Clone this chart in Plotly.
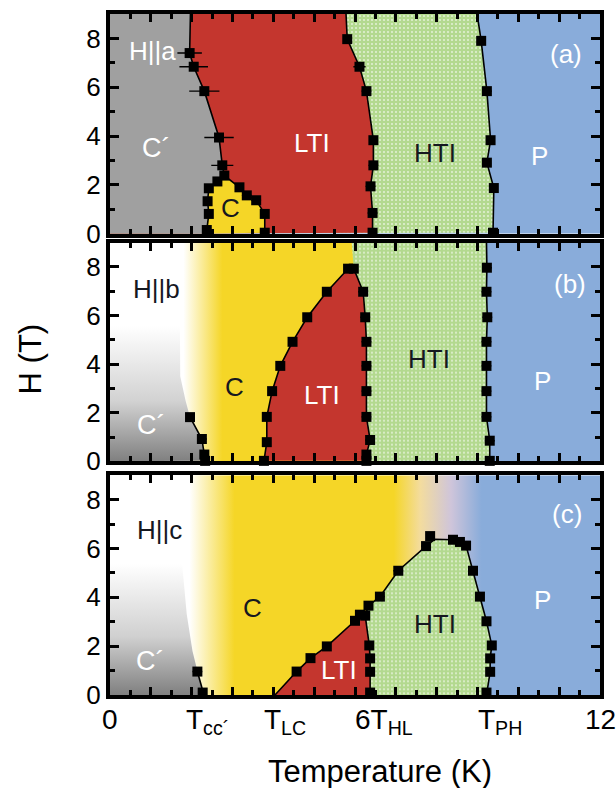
import plotly.graph_objects as go

# ---------------------------------------------------------------- colours
GRAY = "#a0a0a0"
GRAY_DARK = "#7e7e7e"
RED = "#c4362e"
YELLOW = "#f5d627"
GREEN = "#b3d98f"
BLUE = "#89acda"
INK = "#15181f"

T_MAX, H_MAX = 12.0, 9.0

# ---------------------------------------------------------------- panel (a): H || a
# phase lines, listed top -> bottom; dT = horizontal error (None = no measured point)
a_cl_T = [1.97, 1.95, 2.05, 2.31, 2.67, 2.75, 2.80]          # C' / LTI
a_cl_H = [9.00, 7.40, 6.84, 5.84, 3.94, 2.80, 2.38]
a_cl_dT = [None, 0.30, 0.35, 0.37, 0.36, 0.27, 0.10]
a_pl_T = [2.37, 2.37, 2.42, 2.39, 2.42, 2.63]                 # C pocket, left side (bottom -> top)
a_pl_H = [0.00, 0.15, 0.81, 1.33, 1.86, 2.14]
a_pl_dT = [None, 0.10, 0.10, 0.10, 0.10, 0.10]
a_pr_T = [3.17, 3.35, 3.58, 3.79, 3.79]                       # C pocket, right side (top -> bottom)
a_pr_H = [1.90, 1.57, 1.37, 0.81, 0.04]
a_pr_dT = [0.10, 0.12, 0.12, 0.10, 0.05]
a_lh_T = [5.78, 5.81, 6.11, 6.28, 6.45, 6.45, 6.38, 6.43, 6.43]   # LTI / HTI
a_lh_H = [9.00, 7.97, 6.84, 5.84, 3.83, 2.80, 1.94, 0.85, 0.04]
a_lh_dT = [None, 0.10, 0.15, 0.12, 0.10, 0.12, 0.12, 0.12, 0.10]
a_hp_T = [8.99, 9.09, 9.23, 9.32, 9.23, 9.40, 9.38]           # HTI / P
a_hp_H = [9.00, 7.90, 5.84, 3.83, 2.91, 1.87, 0.04]
a_hp_dT = [None, 0.10, 0.12, 0.10, 0.10, 0.10, 0.10]

# ---------------------------------------------------------------- panel (b): H || b
b_edge_T = [1.70, 1.72, 1.85]                                  # soft edge of the C' shading
b_edge_H = [9.00, 3.50, 2.50]
b_cc_T = [1.96, 2.25, 2.31, 2.33]                              # C' / C
b_cc_H = [1.82, 0.92, 0.28, 0.02]
b_cc_dT = [0.10, 0.12, 0.10, 0.10]
b_cl_T = [3.77, 3.84, 3.84, 3.97, 4.17, 4.47, 4.83, 5.31, 5.83, 5.97]   # C / LTI (bottom -> top)
b_cl_H = [0.02, 0.79, 1.83, 2.89, 3.93, 4.92, 5.93, 6.98, 7.93, 7.93]
b_cl_dT = [0.08, 0.08, 0.08, 0.08, 0.08, 0.08, 0.08, 0.08, 0.08, 0.08]
b_top_T = 5.92                                                 # C / HTI meeting the top frame
b_lh_T = [5.97, 6.20, 6.25, 6.28, 6.28, 6.28, 6.28, 6.37, 6.28, 6.28]   # LTI / HTI (top -> bottom)
b_lh_H = [7.93, 6.98, 5.93, 4.92, 3.93, 2.89, 1.83, 0.88, 0.28, 0.02]
b_lh_dT = [None, 0.12, 0.12, 0.12, 0.12, 0.12, 0.12, 0.12, 0.10, 0.10]
b_hp_T = [9.22, 9.23, 9.22, 9.24, 9.22, 9.22, 9.22, 9.22, 9.30, 9.30]   # HTI / P
b_hp_H = [9.00, 7.97, 6.98, 5.93, 4.92, 3.93, 2.89, 1.83, 0.85, 0.02]
b_hp_dT = [None, 0.12, 0.12, 0.12, 0.12, 0.12, 0.12, 0.12, 0.12, 0.10]

# ---------------------------------------------------------------- panel (c): H || c
c_edge_T = [1.72, 1.77, 1.88, 2.02]
c_edge_H = [9.00, 5.30, 3.30, 1.80]
c_cc_T = [2.14, 2.27, 2.30]                                    # C' / C
c_cc_H = [0.96, 0.10, 0.00]
c_cc_dT = [0.12, 0.10, None]
c_cl_T = [4.04, 4.57, 4.91, 5.31, 6.00, 6.12, 6.25]            # C / LTI (bottom -> top)
c_cl_H = [0.00, 0.96, 1.51, 1.99, 3.04, 3.29, 3.25]
c_cl_dT = [None, 0.10, 0.10, 0.10, 0.12, 0.12, 0.10]
c_lh_T = [6.25, 6.35, 6.37, 6.37, 6.37]                        # LTI / HTI (top -> bottom)
c_lh_H = [3.25, 2.03, 1.50, 0.95, 0.10]
c_lh_dT = [None, 0.10, 0.10, 0.10, 0.10]
c_ch_T = [6.25, 6.33, 6.61, 7.06, 7.74, 7.95, 8.40, 8.57, 8.72]   # C / HTI dome
c_ch_H = [3.25, 3.66, 4.03, 5.09, 6.10, 6.38, 6.36, 6.27, 6.12]
c_ch_dT = [None, 0.10, 0.12, 0.12, 0.12, None, 0.12, 0.12, 0.12]
c_hp_T = [8.72, 8.89, 9.06, 9.22, 9.35, 9.31, 9.31, 9.22]      # HTI / P (top -> bottom)
c_hp_H = [6.12, 5.09, 4.03, 3.02, 2.03, 1.50, 0.95, 0.10]
c_hp_dT = [None, 0.12, 0.10, 0.10, 0.10, 0.10, 0.10, 0.10]
c_extra_T = [7.84]
c_extra_H = [6.51]
c_extra_dT = [0.08]

# colour ramp of the C / P background in panel (c): temperature stops and colours
c_ramp_T = [0.0, 1.95, 3.05, 6.95, 7.60, 8.35, 9.10, 12.0]
c_ramp_col = ["#ffffff", "#ffffff", YELLOW, YELLOW, "#f3dc9e", "#cfc5da", BLUE, BLUE]

fig = go.Figure()


def ax_names(p):
    return ("x", "y") if p == 1 else (f"x{p}", f"y{p}")


def region(p, xs, ys, **kw):
    xa, ya = ax_names(p)
    fig.add_trace(go.Scatter(
        x=list(xs), y=list(ys), xaxis=xa, yaxis=ya, mode="lines", fill="toself",
        line=dict(width=0, color="rgba(0,0,0,0)"), hoverinfo="skip", showlegend=False, **kw))


def boundary(p, xs, ys):
    xa, ya = ax_names(p)
    fig.add_trace(go.Scatter(
        x=list(xs), y=list(ys), xaxis=xa, yaxis=ya, mode="lines",
        line=dict(width=1.6, color="black"), hoverinfo="skip", showlegend=False))


def points(p, sets):
    xs, ys, es = [], [], []
    for T, H, dT in sets:
        for t, h, e in zip(T, H, dT):
            if e is not None:
                xs.append(t)
                ys.append(h)
                es.append(e)
    xa, ya = ax_names(p)
    fig.add_trace(go.Scatter(
        x=xs, y=ys, xaxis=xa, yaxis=ya, mode="markers", cliponaxis=False,
        marker=dict(symbol="square", size=10, color="black"),
        error_x=dict(type="data", array=es, symmetric=True, color="black", thickness=1.4, width=0),
        showlegend=False))


def left_of(T, H):
    # region between the left frame and a line running from top frame to bottom frame
    return [0.0] + list(T) + [0.0], [H_MAX] + list(H) + [0.0]


frame_x = [0.0, T_MAX, T_MAX, 0.0]
frame_y = [0.0, 0.0, H_MAX, H_MAX]
dots = dict(shape=".", fgcolor="white", fgopacity=0.7, bgcolor=GREEN, size=4, solidity=0.16)

# ---------------------------------------------------------------- draw panel (a)
region(1, frame_x, frame_y, fillcolor=BLUE)
gx, gy = left_of(a_hp_T, a_hp_H)
region(1, gx, gy, fillcolor=GREEN, fillpattern=dots)
rx, ry = left_of(a_lh_T, a_lh_H)
region(1, rx, ry, fillcolor=RED)
region(1, [0.0] + a_cl_T + a_pl_T[::-1] + [0.0], [H_MAX] + a_cl_H + a_pl_H[::-1] + [0.0], fillcolor=GRAY)
region(1, a_pl_T + a_cl_T[-1:] + a_pr_T, a_pl_H + a_cl_H[-1:] + a_pr_H, fillcolor=YELLOW)
boundary(1, a_cl_T, a_cl_H)
boundary(1, a_pl_T + a_cl_T[-1:] + a_pr_T, a_pl_H + a_cl_H[-1:] + a_pr_H)
boundary(1, a_lh_T, a_lh_H)
boundary(1, a_hp_T, a_hp_H)
points(1, [(a_cl_T, a_cl_H, a_cl_dT), (a_pl_T, a_pl_H, a_pl_dT), (a_pr_T, a_pr_H, a_pr_dT),
           (a_lh_T, a_lh_H, a_lh_dT), (a_hp_T, a_hp_H, a_hp_dT)])

# ---------------------------------------------------------------- draw panel (b)
region(2, frame_x, frame_y, fillcolor=BLUE)
gx, gy = left_of(b_hp_T, b_hp_H)
region(2, gx, gy, fillcolor=GREEN, fillpattern=dots)
region(2, [0.0, b_top_T] + b_lh_T + [0.0], [H_MAX, H_MAX] + b_lh_H + [0.0],
       fillgradient=dict(type="horizontal", start=1.80, stop=2.75,
                         colorscale=[[0, "#ffffff"], [1, YELLOW]]))
region(2, b_cl_T + b_lh_T, b_cl_H + b_lh_H, fillcolor=RED)
ex, ey = left_of(b_edge_T + b_cc_T, b_edge_H + b_cc_H)
region(2, ex, ey, fillgradient=dict(type="vertical", start=0.0, stop=5.6,
                                    colorscale=[[0, GRAY_DARK], [0.45, "#d2d2d2"], [1, "#ffffff"]]))
boundary(2, b_cc_T, b_cc_H)
boundary(2, b_cl_T, b_cl_H)
boundary(2, b_lh_T, b_lh_H)
boundary(2, b_hp_T, b_hp_H)
points(2, [(b_cc_T, b_cc_H, b_cc_dT), (b_cl_T, b_cl_H, b_cl_dT),
           (b_lh_T, b_lh_H, b_lh_dT), (b_hp_T, b_hp_H, b_hp_dT)])

# ---------------------------------------------------------------- draw panel (c)
ramp = [[(t - c_ramp_T[0]) / (c_ramp_T[-1] - c_ramp_T[0]), col] for t, col in zip(c_ramp_T, c_ramp_col)]
region(3, frame_x, frame_y,
       fillgradient=dict(type="horizontal", start=c_ramp_T[0], stop=c_ramp_T[-1], colorscale=ramp))
region(3, c_lh_T[::-1] + c_ch_T[1:] + c_hp_T[1:] + [c_hp_T[-1], c_lh_T[-1]],
       c_lh_H[::-1] + c_ch_H[1:] + c_hp_H[1:] + [0.0, 0.0], fillcolor=GREEN, fillpattern=dots)
region(3, c_cl_T + c_lh_T[1:] + [c_lh_T[-1]], c_cl_H + c_lh_H[1:] + [0.0], fillcolor=RED)
ex, ey = left_of(c_edge_T + c_cc_T, c_edge_H + c_cc_H)
region(3, ex, ey, fillgradient=dict(type="vertical", start=0.0, stop=5.4,
                                    colorscale=[[0, GRAY_DARK], [0.45, "#d0d0d0"], [1, "#ffffff"]]))
boundary(3, c_cc_T, c_cc_H)
boundary(3, c_cl_T, c_cl_H)
boundary(3, c_lh_T + [c_lh_T[-1]], c_lh_H + [0.0])
boundary(3, c_ch_T, c_ch_H)
boundary(3, c_hp_T + [c_hp_T[-1]], c_hp_H + [0.0])
points(3, [(c_cc_T, c_cc_H, c_cc_dT), (c_cl_T, c_cl_H, c_cl_dT), (c_lh_T, c_lh_H, c_lh_dT),
           (c_ch_T, c_ch_H, c_ch_dT), (c_hp_T, c_hp_H, c_hp_dT),
           (c_extra_T, c_extra_H, c_extra_dT)])

# ---------------------------------------------------------------- axes / frames
FONT = "Liberation Sans, Arial, Helvetica, sans-serif"
domains = {1: [0.6774, 1.0], 2: [0.3431, 0.6642], 3: [0.0, 0.3226]}
layout_axes = {}
for p, dom in domains.items():
    xk = "xaxis" if p == 1 else f"xaxis{p}"
    yk = "yaxis" if p == 1 else f"yaxis{p}"
    xa, ya = ax_names(p)
    layout_axes[xk] = dict(
        domain=[0, 1], range=[0, T_MAX], anchor=ya, showline=True, linewidth=4, linecolor="black",
        mirror="ticks", ticks="inside", ticklen=8, tickwidth=3, tickcolor="black",
        tick0=0, dtick=1, minor=dict(dtick=0.5, ticklen=5, tickwidth=3, tickcolor="black", ticks="inside"),
        showticklabels=False, showgrid=False, zeroline=False, fixedrange=True)
    layout_axes[yk] = dict(
        domain=dom, range=[0, H_MAX], anchor=xa, showline=True, linewidth=4, linecolor="black",
        mirror="ticks", ticks="inside", ticklen=9, tickwidth=3, tickcolor="black",
        tick0=0, dtick=2, minor=dict(dtick=1, ticklen=5, tickwidth=3, tickcolor="black", ticks="inside"),
        tickfont=dict(family=FONT, size=26, color="black"),
        showgrid=False, zeroline=False, fixedrange=True)

# ---------------------------------------------------------------- text
notes = []


def label(p, t, h, text, color, size=26, xanchor="center"):
    xa, ya = ax_names(p)
    notes.append(dict(x=t, y=h, xref=xa, yref=ya, text=text, showarrow=False, xanchor=xanchor,
                      font=dict(family=FONT, size=size, color=color)))


label(1, 1.03, 7.5, "H||a", "white")
label(1, 11.17, 7.35, "(a)", "white")
label(1, 1.15, 3.5, "C´", "white", 27)
label(1, 4.95, 3.7, "LTI", "white")
label(1, 7.96, 3.3, "HTI", INK)
label(1, 10.53, 3.2, "P", "white")
label(1, 2.94, 1.06, "C", INK)

label(2, 1.15, 7.1, "H||b", INK)
label(2, 11.27, 7.3, "(b)", "white")
label(2, 1.02, 1.5, "C´", "white", 27)
label(2, 3.06, 3.05, "C", INK)
label(2, 5.2, 2.75, "LTI", "white")
label(2, 7.8, 4.2, "HTI", INK)
label(2, 10.6, 3.3, "P", "white")

label(3, 1.22, 6.75, "H||c", INK)
label(3, 11.2, 7.4, "(c)", "white")
label(3, 0.98, 1.4, "C´", "white", 27)
label(3, 3.5, 3.57, "C", INK)
label(3, 5.6, 1.03, "LTI", "white")
label(3, 7.96, 2.9, "HTI", INK)
label(3, 10.58, 3.9, "P", "white")

# temperature axis labels
x_tick_pos = [0.0, 2.38, 4.29, 6.70, 9.54, 12.0]
x_tick_txt = ["0", "T<sub>cc´</sub>", "T<sub>LC</sub>", "6T<sub>HL</sub>", "T<sub>PH</sub>", "12"]
for t, s in zip(x_tick_pos, x_tick_txt):
    notes.append(dict(x=t, y=-0.010, xref="x3", yref="paper", text=s, showarrow=False,
                      xanchor="center", yanchor="top", font=dict(family=FONT, size=28, color="black")))

notes.append(dict(x=0.551, y=-0.112, xref="paper", yref="paper", text="Temperature (K)",
                  showarrow=False, xanchor="center", yanchor="middle",
                  font=dict(family=FONT, size=31, color="black")))
notes.append(dict(x=-0.163, y=0.493, xref="paper", yref="paper", text="H (T)", textangle=-90,
                  showarrow=False, xanchor="center", yanchor="middle",
                  font=dict(family=FONT, size=31, color="black")))

fig.update_layout(
    width=616, height=788,
    margin=dict(l=110, r=16, t=10, b=93),
    paper_bgcolor="white", plot_bgcolor="white",
    showlegend=False, annotations=notes, **layout_axes)

fig.write_html("out.html")
